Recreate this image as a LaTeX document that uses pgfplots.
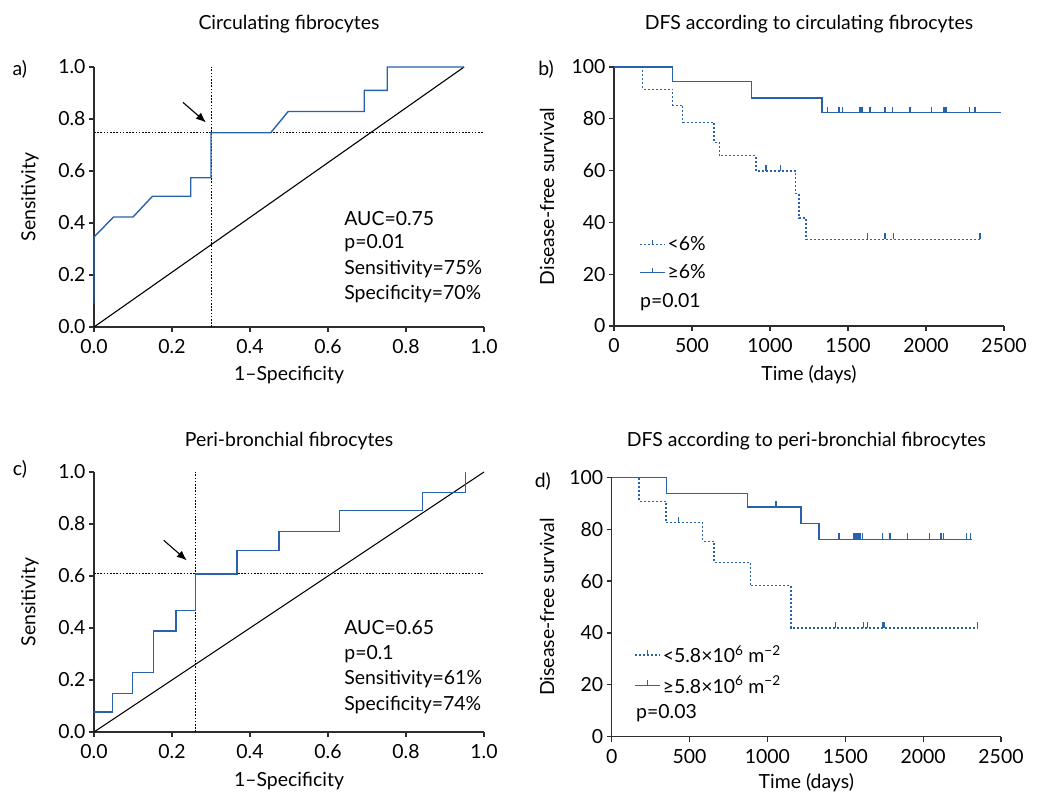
\documentclass[border=0pt]{standalone}
\usepackage{fontspec}
\setmainfont{Lato}
\usepackage{pgfplots}
\pgfplotsset{compat=1.18}
\usetikzlibrary{arrows.meta}
\definecolor{kmblue}{RGB}{40,98,170}
\definecolor{axgray}{RGB}{45,45,45}
\newcommand{\fsz}{\fontsize{19.5}{23}\selectfont}

% censor tick: short stroke pointing up from the curve
\pgfdeclareplotmark{cens}{%
  \pgfpathmoveto{\pgfpointorigin}%
  \pgfpathlineto{\pgfpoint{0pt}{\pgfplotmarksize}}%
  \pgfusepathqstroke}

\pgfplotsset{
  panel/.style={
    scale only axis, width=390bp, height=260bp,
    axis lines=left, axis line style={-, axgray, line width=1.2bp},
    tick align=outside, major tick length=5bp,
    tick style={axgray, line width=1.2bp},
    clip=false,
    tick label style={font=\fsz},
    xticklabel style={yshift=-4bp},
    label style={font=\fsz},
    /pgf/number format/assume math mode=true,
  },
  roc/.style={panel,
    xmin=0, xmax=1, ymin=0, ymax=1,
    xtick={0,0.2,0.4,0.6,0.8,1}, ytick={0,0.2,0.4,0.6,0.8,1},
    xticklabel style={/pgf/number format/.cd, fixed, fixed zerofill, precision=1},
    yticklabel style={/pgf/number format/.cd, fixed, fixed zerofill, precision=1},
    xlabel={1–Specificity}, ylabel={Sensitivity},
    xlabel style={at={(axis description cs:0.5,-0.186)}, anchor=center},
    ylabel style={at={(axis description cs:-0.164,0.5)}, anchor=center},
  },
  km/.style={panel,
    xmin=0, xmax=2500, ymin=0, ymax=100,
    xtick={0,500,...,2500}, ytick={0,20,...,100},
    xticklabel style={/pgf/number format/1000 sep={}},
    xlabel={Time (days)}, ylabel={Disease-free survival},
    xlabel style={at={(axis description cs:0.5,-0.186)}, anchor=center},
    ylabel style={at={(axis description cs:-0.172,0.5)}, anchor=center},
    legend style={draw=none, fill=none, font=\fsz, row sep=5bp,
      cells={anchor=west}, inner sep=0pt},
    legend image code/.code={
      \draw[#1] (0bp,0bp) -- (25bp,0bp);
      \draw[#1, solid] (12.5bp,0bp) -- (12.5bp,5bp);},
  },
  roccurve/.style={kmblue, line width=1.4bp},
  refdot/.style={black, line width=1bp, dash pattern=on 1.6bp off 1.6bp},
  lowline/.style={kmblue, line width=1.4bp, dash pattern=on 2bp off 2bp},
  highline/.style={kmblue, line width=1.4bp},
  censmark/.style={only marks, mark=cens, mark size=6bp, kmblue,
    mark options={solid, line width=1.2bp}, forget plot},
}

\begin{document}
\begin{tikzpicture}
\useasboundingbox (0,0) rectangle (1037bp,795bp);

% ---------- a) ROC circulating fibrocytes
\begin{axis}[roc, at={(94bp,468bp)}, anchor=south west]
\addplot[refdot] coordinates {(0,0.747) (1,0.747)};
\addplot[refdot] coordinates {(0.30,0) (0.30,1)};
\addplot[black, line width=1.1bp] coordinates {(0,0) (0.949,1)};
\addplot[roccurve] coordinates {
  (0,0.09) (0,0.346) (0.05,0.423) (0.10,0.423) (0.15,0.503) (0.248,0.503)
  (0.248,0.574) (0.30,0.574) (0.30,0.747) (0.453,0.747) (0.498,0.829)
  (0.693,0.829) (0.693,0.910) (0.752,0.910) (0.752,1.0) (0.949,1.0)};
\draw[black, line width=1.1bp, -{Latex[length=10bp,width=8bp]}]
  (axis cs:0.228,0.864) -- (axis cs:0.287,0.787);
\node[font=\fsz, anchor=west] at (axis cs:0.633,0.417) {AUC=0.75};
\node[font=\fsz, anchor=west] at (axis cs:0.633,0.323) {p=0.01};
\node[font=\fsz, anchor=west] at (axis cs:0.633,0.224) {Sensitivity=75\%};
\node[font=\fsz, anchor=west] at (axis cs:0.633,0.128) {Specificity=70\%};
\node[font=\fsz] at (rel axis cs:0.5,1.164) {Circulating fibrocytes};
\node[font=\fsz] at (rel axis cs:-0.19,0.991) {a)};
\end{axis}

% ---------- b) KM circulating fibrocytes
\begin{axis}[km, at={(614bp,469bp)}, anchor=south west, height=259bp,
  legend style={at={(axis cs:160,35.3)}, anchor=north west, row sep=8.5bp}]
\addplot[lowline, const plot] coordinates {
  (0,100) (184,91.4) (376,85.2) (440,78.6) (641,70.9) (675,65.8) (910,59.8)
  (1165,51.1) (1186,41.7) (1231,33.5) (2346,33.5)};
\addlegendentry{<6\%}
\addplot[highline, const plot] coordinates {
  (0,100) (374,94.3) (883,88.0) (1333,82.4) (2481,82.4)};
\addlegendentry{≥6\%}
\addplot[censmark] coordinates {
  (974,59.8) (1066,59.8) (1624,33.5) (1737,33.5) (1791,33.5) (2346,33.5)};
\addplot[censmark] coordinates {
  (1370,82.4) (1442,82.4) (1466,82.4) (1573,82.4) (1581,82.4) (1590,82.4)
  (1641,82.4) (1737,82.4) (1784,82.4) (1898,82.4) (2037,82.4) (2111,82.4)
  (2122,82.4) (2128,82.4) (2278,82.4) (2314,82.4)};
\node[font=\fsz, anchor=west] at (axis cs:145,9.2) {p=0.01};
\node[font=\fsz] at (rel axis cs:0.5,1.164) {DFS according to circulating fibrocytes};
\node[font=\fsz] at (rel axis cs:-0.174,0.991) {b)};
\end{axis}

% ---------- c) ROC peri-bronchial fibrocytes
\begin{axis}[roc, at={(94bp,63bp)}, anchor=south west,
  xlabel style={at={(axis description cs:0.5,-0.19)}}]
\addplot[refdot] coordinates {(0,0.608) (1,0.608)};
\addplot[refdot] coordinates {(0.261,0) (0.261,1)};
\addplot[black, line width=1.1bp] coordinates {(0,0) (1,1)};
\addplot[roccurve] coordinates {
  (0,0.077) (0.047,0.077) (0.047,0.149) (0.099,0.149) (0.099,0.229)
  (0.152,0.229) (0.152,0.388) (0.210,0.388) (0.210,0.467) (0.261,0.467)
  (0.261,0.608) (0.367,0.608) (0.367,0.699) (0.474,0.699) (0.474,0.772)
  (0.629,0.772) (0.629,0.853) (0.843,0.853) (0.843,0.922) (0.953,0.922)
  (0.953,1.0)};
\draw[black, line width=1.1bp, -{Latex[length=10bp,width=8bp]}]
  (axis cs:0.179,0.737) -- (axis cs:0.238,0.660);
\node[font=\fsz, anchor=west] at (axis cs:0.633,0.400) {AUC=0.65};
\node[font=\fsz, anchor=west] at (axis cs:0.633,0.301) {p=0.1};
\node[font=\fsz, anchor=west] at (axis cs:0.633,0.205) {Sensitivity=61\%};
\node[font=\fsz, anchor=west] at (axis cs:0.633,0.105) {Specificity=74\%};
\node[font=\fsz] at (rel axis cs:0.5,1.118) {Peri-bronchial fibrocytes};
\node[font=\fsz] at (rel axis cs:-0.19,1.01) {c)};
\end{axis}

% ---------- d) KM peri-bronchial fibrocytes
\begin{axis}[km, at={(611.7bp,58.3bp)}, anchor=south west,
  width=389.3bp, height=259.4bp,
  xlabel style={at={(axis description cs:0.5,-0.178)}},
  ylabel style={at={(axis description cs:-0.166,0.5)}},
  legend style={at={(axis cs:145,36)}, anchor=north west, row sep=7.5bp}]
\addplot[lowline, const plot] coordinates {
  (0,100) (175,90.7) (349,82.5) (584,75.3) (657,67.2) (890,58.2)
  (1151,41.9) (2354,41.9)};
\addlegendentry{<5.8×10\textsuperscript{6} m\textsuperscript{−2}}
\addplot[highline, const plot] coordinates {
  (0,100) (353,93.7) (871,88.6) (1215,82.1) (1331,76.1) (2311,76.1)};
\addlegendentry{≥5.8×10\textsuperscript{6} m\textsuperscript{−2}}
\addplot[censmark] coordinates {
  (430,82.5) (1438,41.9) (1616,41.9) (1643,41.9) (1740,41.9) (1748,41.9)
  (2350,41.9)};
\addplot[censmark] coordinates {
  (1055,88.6) (1459,76.1) (1552,76.1) (1560,76.1) (1569,76.1) (1577,76.1)
  (1586,76.1) (1594,76.1) (1611,76.1) (1740,76.1) (1787,76.1) (1900,76.1)
  (2039,76.1) (2112,76.1) (2119,76.1) (2129,76.1) (2279,76.1) (2305,76.1)};
\node[font=\fsz, anchor=west] at (axis cs:135,9.2) {p=0.03};
\node[font=\fsz] at (rel axis cs:0.5,1.138) {DFS according to peri-bronchial fibrocytes};
\node[font=\fsz] at (rel axis cs:-0.177,0.986) {d)};
\end{axis}
\end{tikzpicture}
\end{document}
